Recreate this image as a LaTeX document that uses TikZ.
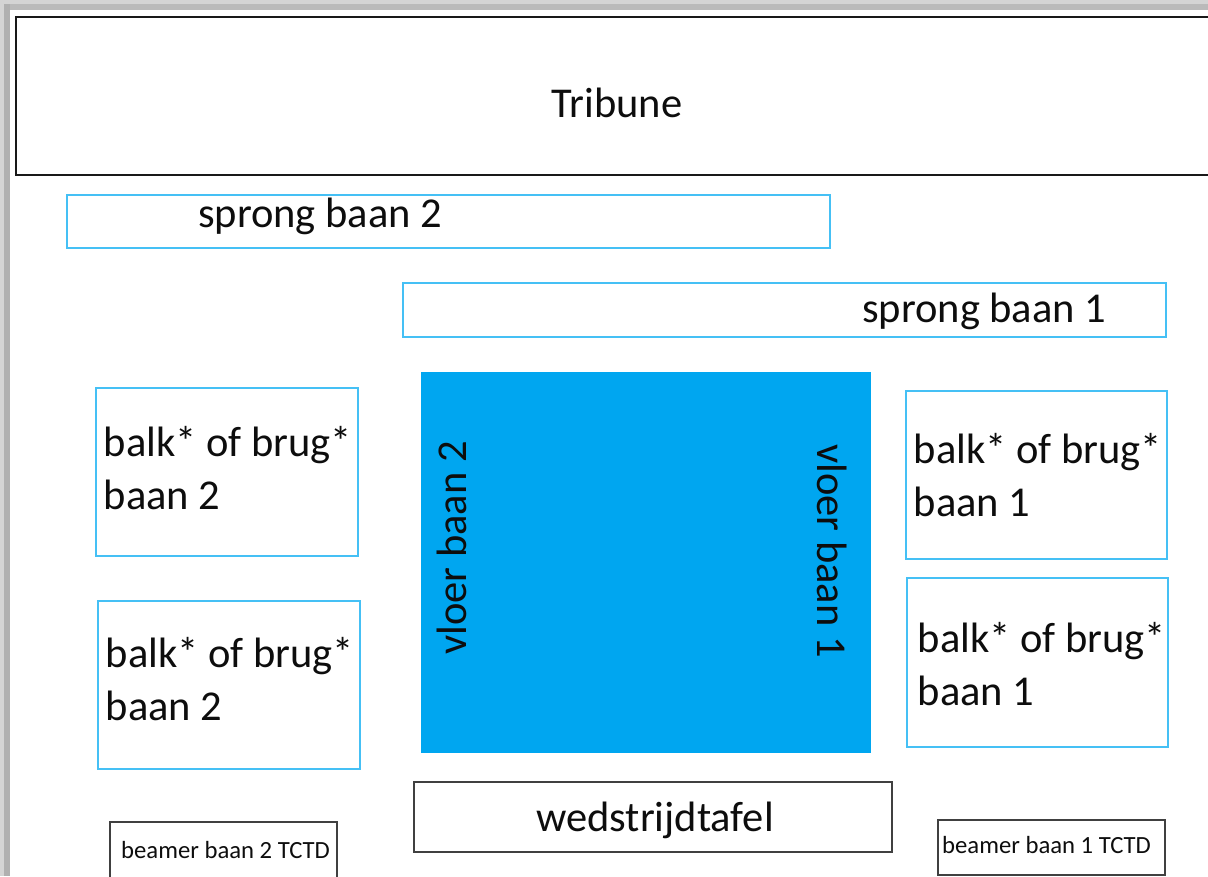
\documentclass[tikz,border=0pt]{standalone}
\usepackage{fontspec}
\setmainfont{Carlito}
\usepackage{xcolor}
\usetikzlibrary{positioning}
\definecolor{baanblauw}{HTML}{00A6F0}
\definecolor{randblauw}{HTML}{45C0F5}
\begin{document}
\begin{tikzpicture}[x=1pt, y=-1pt]
% Stijlen
    \tikzstyle{tribunebox} = [rectangle, draw=black!90, line width=2.5pt, outer sep=0pt]
    \tikzstyle{baanbox} = [rectangle, draw=randblauw, line width=1.3pt, outer sep=0pt, inner xsep=8pt, inner ysep=0pt]
    \tikzstyle{tafelbox} = [rectangle, draw=black!75, line width=1.3pt, outer sep=0pt]
    \tikzstyle{beamerbox} = [rectangle, draw=black!75, line width=1.3pt, outer sep=0pt, inner xsep=4pt]
    \tikzstyle{baantekst} = [inner sep=0pt, text=black!95, font=\fontsize{42.5}{53}\selectfont]
    \tikzstyle{beamertekst} = [inner sep=0pt, anchor=west, text=black!95, font=\fontsize{24.7}{28}\selectfont]

    \useasboundingbox (0,0) rectangle (1208,876);
    \clip (0,0) rectangle (1208,876);

    % Grijze rand van de pagina
    \fill[black!17] (0,0) rectangle (1208,4);
    \fill[black!27] (4,4) rectangle (1208,10);
    \fill[black!17] (0,0) rectangle (4,876);
    \fill[black!31] (4,4) rectangle (10,876);

    % Tribune en sprongbanen
    \node [tribunebox, minimum width=1202pt, minimum height=158pt] (tribune) at (617,96) {};
    \node [baantekst] (tribunetekst) at (617,103) {Tribune};
    \node [baanbox, minimum width=763pt, minimum height=53pt] (sprong2) at (448.5,221.5) {};
    \node [baantekst, anchor=west] (sprong2tekst) at (198,216) {sprong baan 2};
    \node [baanbox, minimum width=763pt, minimum height=54pt] (sprong1) at (784.5,310) {};
    \node [baantekst, anchor=west] (sprong1tekst) at (862,311) {sprong baan 1};

    % Vloer
    \node [rectangle, fill=baanblauw, minimum width=450pt, minimum height=381pt, outer sep=0pt] (vloer) at (646,562.5) {};
    \node [baantekst, rotate=90] (vloer2) at (452,548) {vloer baan 2};
    \node [baantekst, rotate=-90] (vloer1) at (832,551) {vloer baan 1};

    % Balk of brug, links
    \node [baanbox, minimum width=262pt, minimum height=168pt] (balk2a) at (227,472) {};
    \node [baantekst, anchor=west, align=left] (balk2atekst) at (103.5,468) {balk* of brug*\\baan 2};
    \node [baanbox, minimum width=262pt, minimum height=168pt] (balk2b) at (229,685) {};
    \node [baantekst, anchor=west, align=left] (balk2btekst) at (105.5,679) {balk* of brug*\\baan 2};

    % Balk of brug, rechts
    \node [baanbox, minimum width=261pt, minimum height=168pt] (balk1a) at (1036.5,475) {};
    \node [baantekst, anchor=west, align=left] (balk1atekst) at (913.5,475) {balk* of brug*\\baan 1};
    \node [baanbox, minimum width=261pt, minimum height=169pt] (balk1b) at (1037.5,662.5) {};
    \node [baantekst, anchor=west, align=left] (balk1btekst) at (917.5,664) {balk* of brug*\\baan 1};

    % Tafel en beamers
    \node [tafelbox, minimum width=478pt, minimum height=70pt] (tafel) at (653,817) {};
    \node [baantekst, anchor=center] (tafeltekst) at (655,820) {wedstrijdtafel};
    \node [beamerbox, minimum width=227pt, minimum height=60pt] (beamer2) at (223.5,852) {};
    \node [beamertekst] (beamer2tekst) at (121,850) {beamer baan 2 TCTD};
    \node [beamerbox, minimum width=227pt, minimum height=55pt] (beamer1) at (1051.5,847.5) {};
    \node [beamertekst] (beamer1tekst) at (942,845) {beamer baan 1 TCTD};
\end{tikzpicture}
\end{document}
